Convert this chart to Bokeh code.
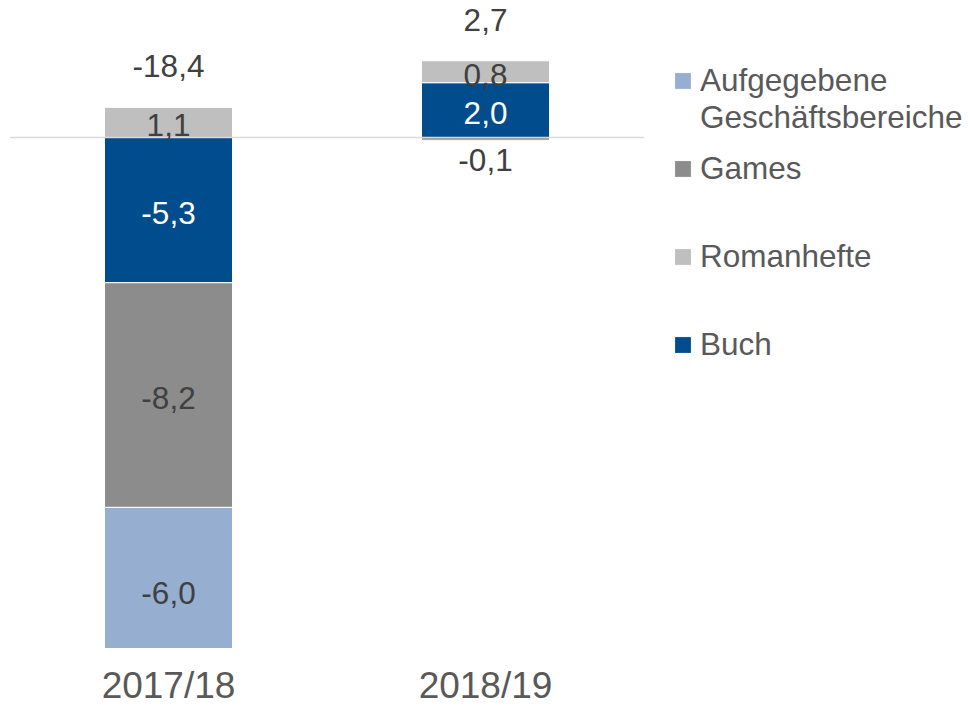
from bokeh.plotting import figure
from bokeh.models import ColumnDataSource, Legend, LegendItem, Range1d
from bokeh.embed import file_html
from bokeh.resources import INLINE
from bokeh.core.properties import value

# ---- data ----
categories = ["2017/18", "2018/19"]
series_names = ["Buch", "Romanhefte", "Games", "Aufgegebene\nGeschäftsbereiche"]
buch = [-5.3, 2.0]
romanhefte = [1.1, 0.8]
games = [-8.2, -0.1]
aufgegebene = [-6.0, 0.0]
totals = [-18.4, 2.7]

series_values = [buch, romanhefte, games, aufgegebene]
colors = ["#004C8C", "#BFBFBF", "#8C8C8C", "#96AED0"]
label_colors = ["#FFFFFF", "#404040", "#404040", "#404040"]

# ---- style ----
FONT = "Liberation Sans"
W, H = 968, 706
Y_MAX = 5.0
Y_MIN = Y_MAX - H / 27.4
AXIS_MIN = -18.65          # value axis minimum (bars are cut here, like the original)
X_MIN = -0.53
X_MAX = X_MIN + W / 317.0
BAR_W = 0.404


def fmt(v):
    return f"{v:.1f}".replace(".", ",")


p = figure(width=W, height=H, x_range=Range1d(X_MIN, X_MAX),
           y_range=Range1d(Y_MIN, Y_MAX), output_backend="svg", toolbar_location=None,
           x_axis_location=None, y_axis_location=None,
           min_border_left=0, min_border_right=0, min_border_top=0, min_border_bottom=0)
p.outline_line_color = None
p.xgrid.visible = False
p.ygrid.visible = False

n = len(categories)
xpos = list(range(n))          # category index positions
pos_base = [0.0] * n
neg_base = [0.0] * n
renderers = []
lab_x, lab_y, lab_t, lab_c, lab_off = [], [], [], [], []
for vals, color, lcol in zip(series_values, colors, label_colors):
    xs, tops, bottoms = [], [], []
    for i, v in enumerate(vals):
        if v == 0:
            continue
        if v > 0:
            bottom = pos_base[i]
            top = bottom + v
            pos_base[i] = top
        else:
            top = neg_base[i]
            bottom = top + v
            neg_base[i] = bottom
        xs.append(xpos[i])
        tops.append(max(top, AXIS_MIN))
        bottoms.append(max(bottom, AXIS_MIN))
        lab_x.append(xpos[i])
        if abs(v) < 0.3:
            lab_y.append(bottom)
            lab_off.append(20)
            lab_c.append("#404040")
        else:
            lab_y.append((top + bottom) / 2)
            lab_off.append(3)
            lab_c.append(lcol)
        lab_t.append(fmt(v))
    src = ColumnDataSource(dict(x=xs, top=tops, bottom=bottoms))
    r = p.vbar(x="x", top="top", bottom="bottom", width=BAR_W, source=src,
               fill_color=color, line_color="white", line_width=1)
    renderers.append(r)

# zero line (category axis line)
p.segment(x0=[-0.5], x1=[n - 0.5], y0=[0], y1=[0], line_color="#D9D9D9", line_width=1.5)

# segment labels
p.text(x=lab_x, y=lab_y, text=lab_t, y_offset=lab_off, text_color=lab_c,
       text_font=value(FONT), text_font_size="31.5px",
       text_align="center", text_baseline="middle")

# totals above the stacks
p.text(x=xpos, y=pos_base, text=[fmt(t) for t in totals], y_offset=-41,
       text_color="#404040", text_font=value(FONT), text_font_size="31.5px",
       text_align="center", text_baseline="middle")

# category labels
p.text(x=xpos, y=[AXIS_MIN] * n, text=categories, y_offset=37,
       text_color="#595959", text_font=value(FONT), text_font_size="37px",
       text_align="center", text_baseline="middle")

legend_style = dict(padding=0, margin=0, glyph_width=21, glyph_height=21,
                    label_standoff=7, label_height=36,
                    label_text_font=FONT, label_text_font_size="31.5px",
                    label_text_color="#595959", border_line_color=None,
                    background_fill_alpha=0)
# first (two-line) entry: leading empty line keeps the swatch level with the first text line
legend_a = Legend(items=[LegendItem(label="\n" + series_names[3], renderers=[renderers[3]])],
                  location=(672, 570), **legend_style)
# remaining entries
legend_b = Legend(items=[LegendItem(label=series_names[i], renderers=[renderers[i]])
                         for i in (2, 1, 0)],
                  location=(672, 343), spacing=51, **legend_style)
p.add_layout(legend_a)
p.add_layout(legend_b)

open("out.html", "w").write(file_html(p, INLINE))
